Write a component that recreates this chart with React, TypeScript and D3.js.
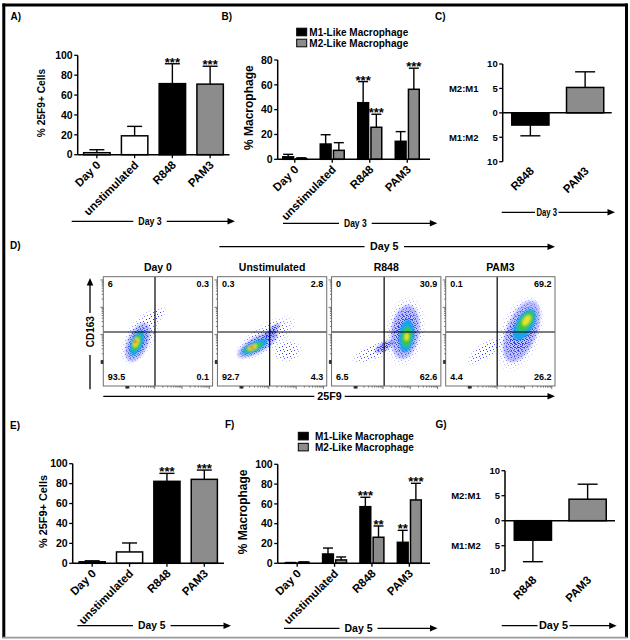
import React from "react";
import * as d3 from "d3";

const FONT = "'Liberation Sans', Arial, Helvetica, sans-serif";

// ---------- categories ----------
const treatments = ["Day 0", "unstimulated", "R848", "PAM3"];
const agonists = ["R848", "PAM3"];
const subsets = ["M1-Like Macrophage", "M2-Like Macrophage"];

// ---------- A) Day 3, % 25F9+ cells ----------
const day3Pos = [2, 19, 71.5, 71];
const day3PosErr = [3, 9.5, 20, 18];
const day3PosSig = ["", "", "***", "***"];

// ---------- B) Day 3, % macrophage subsets ----------
const day3M1 = [2, 12.3, 45.6, 14.5];
const day3M1Err = [2, 7.5, 17, 7.8];
const day3M1Sig = ["", "", "***", ""];
const day3M2 = [0.5, 7.2, 25.8, 56.4];
const day3M2Err = [0.7, 6.2, 10.5, 17];
const day3M2Sig = ["", "", "***", "***"];

// ---------- C) Day 3 ratio (positive = M2:M1, negative = M1:M2) ----------
const day3Ratio = [-2.5, 5.2];
const day3RatioErr = [2.2, 3.2];

// ---------- E) Day 5, % 25F9+ cells ----------
const day5Pos = [1.5, 11.4, 82.3, 84.3];
const day5PosErr = [1, 9, 8, 9.3];
const day5PosSig = ["", "", "***", "***"];

// ---------- F) Day 5, % macrophage subsets ----------
const day5M1 = [0.5, 9.4, 57.2, 21.2];
const day5M1Err = [0.3, 6, 9.5, 12.1];
const day5M1Sig = ["", "", "***", "**"];
const day5M2 = [1, 3.4, 26.3, 64];
const day5M2Err = [0.4, 3, 11.4, 16.8];
const day5M2Sig = ["", "", "**", "***"];

// ---------- G) Day 5 ratio ----------
const day5Ratio = [-3.9, 4.3];
const day5RatioErr = [4.3, 3];

// ---------- tick values ----------
const pctTicks100 = [0, 20, 40, 60, 80, 100];
const pctTicks80 = [0, 20, 40, 60, 80];
const ratioTicks = [-10, -5, 0, 5, 10];

// ---------- D) flow cytometry, 25F9 (x) vs CD163 (y), both in % of axis ----------
const flowTitles = ["Day 0", "Unstimulated", "R848", "PAM3"];
const quadUL = ["6", "0.3", "0", "0.1"];
const quadUR = ["0.3", "2.8", "30.9", "69.2"];
const quadLL = ["93.5", "92.7", "6.5", "4.4"];
const quadLR = ["0.1", "4.3", "62.6", "26.2"];
const gate25F9 = [47.3, 47.8, 48.1, 47.1];
const gateCD163 = [49.4, 49.4, 49.4, 49.4];

// density contours: [level, cx, cy, rx, ry, tilt°] (level 0 = sparse events .. 5 = peak)
type Blob = [number, number, number, number, number, number];
const day0Density: Blob[] = [
  [0, 34, 45, 30, 14, 60],
  [0, 47, 63, 14, 6, 40],
  [1, 31.5, 40, 19, 9.5, 66],
  [2, 30.8, 39.5, 12, 5.5, 68],
  [3, 30.4, 39.5, 8, 3.8, 70],
  [4, 30, 40, 4.5, 2.3, 70],
  [5, 29.6, 40.5, 2, 1.2, 70],
];
const unstimDensity: Blob[] = [
  [0, 44, 44, 34, 13, 33],
  [0, 64, 32, 14, 11, 10],
  [1, 37, 38, 21, 7.5, 30],
  [1, 50, 50, 10, 3.5, 45],
  [2, 34, 36, 13, 4.5, 27],
  [3, 33, 35.3, 9, 3.2, 25],
  [4, 32, 35.3, 4.5, 2, 25],
  [5, 31.6, 35.4, 2, 1.1, 25],
];
const r848Density: Blob[] = [
  [0, 67.5, 50, 34, 19, 82],
  [0, 38, 31, 22, 8, 23],
  [1, 67.4, 49.5, 25, 13, 82],
  [1, 48, 36, 10, 4, 30],
  [2, 68.5, 46, 15, 7, 84],
  [3, 68.7, 45, 9.5, 4.8, 85],
  [4, 68.7, 45, 3.5, 2, 85],
];
const pam3Density: Blob[] = [
  [0, 68, 48, 38, 20, 70],
  [0, 36, 32, 22, 8, 35],
  [1, 69.5, 50, 30, 14, 68],
  [2, 72, 56, 16, 8, 60],
  [3, 73.2, 58.8, 11, 5.5, 55],
  [4, 74, 60, 5.5, 3, 55],
];
const flowDensities = [day0Density, unstimDensity, r848Density, pam3Density];

// ---------- styles ----------
const GREY = "#8c8c8c";
const treatmentFill = d3.scaleOrdinal<string, string>().domain(treatments).range(["#ffffff", "#ffffff", "#000000", GREY]);
const agonistFill = d3.scaleOrdinal<string, string>().domain(agonists).range(["#000000", GREY]);
const subsetFill = d3.scaleOrdinal<string, string>().domain(subsets).range(["#000000", GREY]);
const densityColor = ["", "", "#17a4ee", "#36c64a", "#e9e42c", "#f0502a"];

type BarSpec = { key: string; x: number; w: number; v: number; e: number; fill: string; star?: string };

function YAxis({ x, scale, ticks, fmt, size }: any) {
  const r = scale.range();
  return (
    <g>
      <line x1={x} x2={x} y1={r[0]} y2={r[1]} stroke="#000" strokeWidth={1.5} />
      {ticks.map((t: number) => (
        <g key={t}>
          <line x1={x - 3.5} x2={x} y1={scale(t)} y2={scale(t)} stroke="#000" strokeWidth={1.3} />
          <text x={x - 5} y={scale(t)} dy="0.36em" textAnchor="end" fontWeight="bold" fontSize={size}>
            {fmt(t)}
          </text>
        </g>
      ))}
    </g>
  );
}

function Bars({ y, bars, capHalf, starSize }: { y: any; bars: BarSpec[]; capHalf: number; starSize: number }) {
  const y0 = y(0);
  return (
    <g>
      {bars.map((b) => {
        const dir = b.v < 0 ? -1 : 1;
        const yv = y(b.v);
        const ye = y(b.v + dir * b.e);
        const cx = b.x + b.w / 2;
        return (
          <g key={b.key}>
            <line x1={cx} x2={cx} y1={yv} y2={ye} stroke="#000" strokeWidth={1.4} />
            <line x1={cx - capHalf} x2={cx + capHalf} y1={ye} y2={ye} stroke="#000" strokeWidth={1.4} />
            <rect x={b.x} y={Math.min(yv, y0)} width={b.w} height={Math.abs(y0 - yv)} fill={b.fill} stroke="#000" strokeWidth={1.5} />
            {b.star ? (
              <text x={cx} y={ye + 3} textAnchor="middle" fontWeight="bold" fontSize={starSize}>
                {b.star}
              </text>
            ) : null}
          </g>
        );
      })}
    </g>
  );
}

function XLabels({ items, y, size }: { items: { x: number; t: string }[]; y: number; size: number }) {
  return (
    <g>
      {items.map((it) => (
        <text key={it.t} transform={`translate(${it.x + 4.5},${y}) rotate(-45)`} textAnchor="end" fontWeight="bold" fontSize={size}>
          {it.t}
        </text>
      ))}
    </g>
  );
}

function XTicks({ xs, y }: { xs: number[]; y: number }) {
  return (
    <g>
      {xs.map((x, i) => (
        <line key={i} x1={x} x2={x} y1={y} y2={y + 3.5} stroke="#000" strokeWidth={1.3} />
      ))}
    </g>
  );
}

function YTitle({ x, y, text, size }: any) {
  return (
    <text transform={`translate(${x},${y}) rotate(-90)`} textAnchor="middle" dy="0.35em" fontSize={size} fontWeight="bold">
      {text}
    </text>
  );
}

function LabeledArrow({ x1, x2, y, label, t1, t2, size, gap = 5 }: any) {
  return (
    <g>
      <line x1={x1} x2={t1 - gap} y1={y} y2={y} stroke="#000" strokeWidth={1.3} />
      <line x1={t2 + gap} x2={x2 - 5} y1={y} y2={y} stroke="#000" strokeWidth={1.3} />
      <path d={`M${x2},${y} L${x2 - 7.5},${y - 3.3} L${x2 - 7.5},${y + 3.3} Z`} fill="#000" />
      <text x={(t1 + t2) / 2} y={y} dy="0.36em" textAnchor="middle" fontWeight="bold" fontSize={size} textLength={t2 - t1} lengthAdjust="spacingAndGlyphs">
        {label}
      </text>
    </g>
  );
}

function Legend({ x, y, tx }: { x: number; y: number; tx: number }) {
  return (
    <g>
      {subsets.map((s, i) => (
        <g key={s}>
          <rect x={x} y={y + i * 11} width={10} height={7.6} fill={subsetFill(s)} stroke="#000" strokeWidth={1} />
          <text x={tx} y={y + i * 11 + 7.4} fontWeight="bold" fontSize={10}>
            {s}
          </text>
        </g>
      ))}
    </g>
  );
}

// single-series percentage panel (A, E)
function PctPanel({ vals, errs, sig, yRange, axisX, axisEnd, band, titleX, titleSize }: any) {
  const y = d3.scaleLinear().domain([0, 100]).range(yRange);
  const x = d3.scaleBand<string>().domain(treatments).range(band).paddingInner(0.3).paddingOuter(0.15);
  const bars: BarSpec[] = treatments.map((t, i) => ({
    key: t,
    x: x(t)!,
    w: x.bandwidth(),
    v: vals[i],
    e: errs[i],
    fill: treatmentFill(t),
    star: sig[i],
  }));
  const centers = treatments.map((t) => x(t)! + x.bandwidth() / 2);
  return (
    <g>
      <Bars y={y} bars={bars} capHalf={7.5} starSize={13} />
      <YAxis x={axisX} scale={y} ticks={pctTicks100} fmt={(d: number) => d} size={10.5} />
      <line x1={axisX} x2={axisEnd} y1={y(0)} y2={y(0)} stroke="#000" strokeWidth={1.5} />
      <XTicks xs={centers} y={y(0)} />
      <XLabels items={treatments.map((t, i) => ({ x: centers[i], t }))} y={y(0) + 11} size={11.5} />
      <YTitle x={titleX} y={(yRange[0] + yRange[1]) / 2 - 2} text="% 25F9+ Cells" size={titleSize} />
    </g>
  );
}

// grouped M1/M2 panel (B, F)
function SubsetPanel({ m1, m1e, m1s, m2, m2e, m2s, ymax, ticks, yRange, axisX, axisEnd, band, titleX }: any) {
  const y = d3.scaleLinear().domain([0, ymax]).range(yRange);
  const x0 = d3.scaleBand<string>().domain(treatments).range(band).paddingInner(0.36).paddingOuter(0.18);
  const half = x0.bandwidth() / 2;
  const x1 = d3.scaleBand<string>().domain(subsets).range([-half, half]).paddingInner(0.18);
  const series = [
    { s: subsets[0], v: m1, e: m1e, st: m1s },
    { s: subsets[1], v: m2, e: m2e, st: m2s },
  ];
  const bars: BarSpec[] = [];
  treatments.forEach((t, i) => {
    const cx = x0(t)! + half;
    series.forEach((sr) =>
      bars.push({
        key: t + sr.s,
        x: cx + x1(sr.s)!,
        w: x1.bandwidth(),
        v: sr.v[i],
        e: sr.e[i],
        fill: subsetFill(sr.s),
        star: sr.st[i],
      })
    );
  });
  const centers = treatments.map((t) => x0(t)! + half);
  return (
    <g>
      <Bars y={y} bars={bars} capHalf={5} starSize={13} />
      <YAxis x={axisX} scale={y} ticks={ticks} fmt={(d: number) => d} size={10.5} />
      <line x1={axisX} x2={axisEnd} y1={y(0)} y2={y(0)} stroke="#000" strokeWidth={1.5} />
      <XTicks xs={centers} y={y(0)} />
      <XLabels items={treatments.map((t, i) => ({ x: centers[i], t }))} y={y(0) + 11} size={11.5} />
      <YTitle x={titleX} y={(yRange[0] + yRange[1]) / 2 - 2} text="% Macrophage" size={12} />
    </g>
  );
}

// ratio panel (C, G)
function RatioPanel({ vals, errs, yRange, axisX, axisEnd, band, ratioX }: any) {
  const y = d3.scaleLinear().domain([-10, 10]).range(yRange);
  const x = d3.scaleBand<string>().domain(agonists).range(band).paddingInner(0.32).paddingOuter(0.16);
  const bars: BarSpec[] = agonists.map((a, i) => ({
    key: a,
    x: x(a)!,
    w: x.bandwidth(),
    v: vals[i],
    e: errs[i],
    fill: agonistFill(a),
  }));
  const centers = agonists.map((a) => x(a)! + x.bandwidth() / 2);
  return (
    <g>
      <Bars y={y} bars={bars} capHalf={10} starSize={13} />
      <YAxis x={axisX} scale={y} ticks={ratioTicks} fmt={(d: number) => Math.abs(d)} size={9.5} />
      <line x1={axisX} x2={axisEnd} y1={y(0)} y2={y(0)} stroke="#000" strokeWidth={1.5} />
      <text x={ratioX} y={y(5)} dy="0.36em" textAnchor="end" fontWeight="bold" fontSize={9.5}>
        M2:M1
      </text>
      <text x={ratioX} y={y(-5)} dy="0.36em" textAnchor="end" fontWeight="bold" fontSize={9.5}>
        M1:M2
      </text>
      <XLabels items={agonists.map((a, i) => ({ x: centers[i], t: a }))} y={yRange[0] + 10} size={11.5} />
    </g>
  );
}

// flow axis ticks: decades with log-spaced minors
const flowDecadeFrac = [0.22, 0.47, 0.72, 0.97];
const flowTickFrac: { f: number; major: boolean }[] = [];
flowDecadeFrac.forEach((d) => {
  flowTickFrac.push({ f: d, major: true });
  for (let k = 2; k <= 9; k++) {
    const f = d + 0.25 * Math.log10(k);
    if (f < 1) flowTickFrac.push({ f, major: false });
  }
});

function FlowPlot({ idx, x, y, w, h }: { idx: number; x: number; y: number; w: number; h: number }) {
  const sx = d3.scaleLinear().domain([0, 100]).range([x, x + w]);
  const sy = d3.scaleLinear().domain([0, 100]).range([y + h, y]);
  const k = w / 100;
  const blobs = flowDensities[idx];
  const clipId = `flowclip${idx}`;
  const ell = (b: Blob, i: number, fill: string, extra: any = {}) => (
    <ellipse
      key={i}
      cx={sx(b[1])}
      cy={sy(b[2])}
      rx={b[3] * k}
      ry={b[4] * k}
      transform={`rotate(${-b[5]} ${sx(b[1])} ${sy(b[2])})`}
      fill={fill}
      {...extra}
    />
  );
  return (
    <g>
      <clipPath id={clipId}>
        <rect x={x} y={y} width={w} height={h} />
      </clipPath>
      <mask id={`sparse${idx}`} maskUnits="userSpaceOnUse" x={x} y={y} width={w} height={h}>
        {blobs.map((b, i) => (b[0] === 0 ? ell(b, i, "url(#fade)") : null))}
      </mask>
      <mask id={`dense${idx}`} maskUnits="userSpaceOnUse" x={x} y={y} width={w} height={h}>
        {blobs.map((b, i) => (b[0] === 1 ? ell(b, i, "url(#fade)") : null))}
      </mask>
      <rect x={x} y={y} width={w} height={h} fill="#fff" />
      <g clipPath={`url(#${clipId})`}>
        <rect x={x} y={y} width={w} height={h} fill="url(#sparseDots)" mask={`url(#sparse${idx})`} />
        <g filter="url(#soft)">{blobs.map((b, i) => (b[0] === 1 ? ell(b, i, "#2a3cff", { opacity: 0.3 }) : null))}</g>
        <rect x={x} y={y} width={w} height={h} fill="url(#denseDots)" mask={`url(#dense${idx})`} />
        <g filter="url(#soft)">{blobs.map((b, i) => (b[0] >= 2 ? ell(b, i, densityColor[b[0]]) : null))}</g>
      </g>
      {/* quadrant gates */}
      <line x1={sx(gate25F9[idx])} x2={sx(gate25F9[idx])} y1={y} y2={y + h} stroke="#000" strokeWidth={1.2} />
      <line x1={x} x2={x + w} y1={sy(gateCD163[idx])} y2={sy(gateCD163[idx])} stroke="#000" strokeWidth={1.2} />
      <rect x={x} y={y} width={w} height={h} fill="none" stroke="#6e6e6e" strokeWidth={1} />
      {/* axis ticks */}
      {flowTickFrac.map((t, i) => (
        <g key={i} stroke="#555" strokeWidth={0.8}>
          <line x1={x - (t.major ? 3 : 1.6)} x2={x} y1={y + h - t.f * h} y2={y + h - t.f * h} />
          <line x1={x + t.f * w} x2={x + t.f * w} y1={y + h} y2={y + h + (t.major ? 3 : 1.6)} />
        </g>
      ))}
      <rect x={x - 2.5} y={y + h - 0.22 * h - 2} width={2.5} height={4} fill="#333" />
      <rect x={x + 0.22 * w - 2} y={y + h} width={4} height={2.5} fill="#333" />
      {/* labels */}
      <text x={x + w / 2} y={y - 5.7} textAnchor="middle" fontWeight="bold" fontSize={10.5}>
        {flowTitles[idx]}
      </text>
      <g fontWeight="bold" fontSize={9}>
        <text x={x + 4.5} y={y + 10.6}>{quadUL[idx]}</text>
        <text x={x + w - 3.5} y={y + 10.6} textAnchor="end">{quadUR[idx]}</text>
        <text x={x + 4.5} y={y + h - 5.7}>{quadLL[idx]}</text>
        <text x={x + w - 3.5} y={y + h - 5.7} textAnchor="end">{quadLR[idx]}</text>
      </g>
    </g>
  );
}

function FlowPanel() {
  const band = d3.scaleBand<string>().domain(flowTitles).range([103.3, 555]).paddingInner(0.0423).paddingOuter(0);
  const top = 276.7;
  const h = 109.3;
  return (
    <g>
      {flowTitles.map((t, i) => (
        <FlowPlot key={t} idx={i} x={band(t)!} y={top} w={band.bandwidth()} h={h} />
      ))}
      <LabeledArrow x1={219.3} x2={555} y={246.7} label="Day 5" t1={370} t2={398.5} size={10.5} gap={5.5} />
      <LabeledArrow x1={103.3} x2={555} y={396.3} label="25F9" t1={317.3} t2={341.7} size={10.5} gap={3} />
      {/* CD163 vertical arrow */}
      <line x1={90} x2={90} y1={389.3} y2={355} stroke="#000" strokeWidth={1.3} />
      <line x1={90} x2={90} y1={313} y2={283} stroke="#000" strokeWidth={1.3} />
      <path d={`M90,278 L86.7,285.5 L93.3,285.5 Z`} fill="#000" />
      <text transform="translate(90,331.7) rotate(-90)" textAnchor="middle" dy="0.36em" fontWeight="bold" fontSize={10}>
        CD163
      </text>
    </g>
  );
}

export default function App() {
  return (
    <svg
      width={630}
      height={640}
      viewBox="0 0 630 640"
      style={{ position: "absolute", left: 0, top: 0, background: "#fff" }}
      fontFamily={FONT}
    >
      <defs>
        <pattern id="sparseDots" width={7} height={7} patternUnits="userSpaceOnUse">
          <rect x={0} y={0} width={1} height={1} fill="#1a22ee" />
          <rect x={4} y={1} width={1} height={1} fill="#2a40ff" />
          <rect x={2} y={3} width={1} height={1} fill="#1a22ee" />
          <rect x={6} y={4} width={1} height={1} fill="#1a22ee" />
          <rect x={3} y={6} width={1} height={1} fill="#2a40ff" />
        </pattern>
        <pattern id="denseDots" width={4} height={4} patternUnits="userSpaceOnUse">
          <rect x={0} y={0} width={1} height={1} fill="#1420e6" />
          <rect x={2} y={1} width={1} height={1} fill="#2030ff" />
          <rect x={1} y={2} width={1} height={1} fill="#1420e6" />
          <rect x={3} y={3} width={1} height={1} fill="#2030ff" />
          <rect x={2} y={3} width={1} height={1} fill="#1420e6" />
        </pattern>
        <radialGradient id="fade">
          <stop offset="0%" stopColor="#fff" stopOpacity={1} />
          <stop offset="55%" stopColor="#fff" stopOpacity={0.85} />
          <stop offset="100%" stopColor="#fff" stopOpacity={0} />
        </radialGradient>
        <filter id="soft" x="-50%" y="-50%" width="200%" height="200%">
          <feGaussianBlur stdDeviation={1.1} />
        </filter>
      </defs>
      <rect width={630} height={640} fill="#fff" />

      {/* frame */}
      <line x1={2.5} x2={627.5} y1={5} y2={5} stroke="#000" strokeWidth={3} />
      <line x1={3.8} x2={3.8} y1={3.5} y2={638} stroke="#000" strokeWidth={3} />
      <line x1={626.5} x2={626.5} y1={3.5} y2={638} stroke="#000" strokeWidth={3} />
      <line x1={2.5} x2={627.5} y1={637.6} y2={637.6} stroke="#999" strokeWidth={1.8} />

      {/* panel letters */}
      <g fontWeight="bold" fontSize={10}>
        <text x={10.5} y={20}>A)</text>
        <text x={221.5} y={20}>B)</text>
        <text x={435} y={20}>C)</text>
        <text x={10} y={248.5}>D)</text>
        <text x={10} y={428.5}>E)</text>
        <text x={225} y={427.5}>F)</text>
        <text x={435.5} y={427.5}>G)</text>
      </g>

      {/* A */}
      <PctPanel
        vals={day3Pos}
        errs={day3PosErr}
        sig={day3PosSig}
        yRange={[154.7, 55.3]}
        axisX={77.7}
        axisEnd={229.5}
        band={[78, 229]}
        titleX={41.7}
        titleSize={10.2}
      />
      <LabeledArrow x1={71.7} x2={235} y={221.3} label="Day 3" t1={138.3} t2={161.7} size={10.5} />

      {/* B */}
      <Legend x={296.7} y={28.2} tx={309.3} />
      <SubsetPanel
        m1={day3M1}
        m1e={day3M1Err}
        m1s={day3M1Sig}
        m2={day3M2}
        m2e={day3M2Err}
        m2s={day3M2Sig}
        ymax={80}
        ticks={pctTicks80}
        yRange={[159.3, 60]}
        axisX={277.7}
        axisEnd={430}
        band={[276, 426]}
        titleX={248.3}
      />
      <LabeledArrow x1={283} x2={437.3} y={223.3} label="Day 3" t1={344} t2={366.7} size={10.5} />

      {/* C */}
      <RatioPanel vals={day3Ratio} errs={day3RatioErr} yRange={[161.7, 64]} axisX={502.7} axisEnd={611.7} band={[503, 612.5]} ratioX={478.5} />
      <LabeledArrow x1={501.7} x2={615} y={212.3} label="Day 3" t1={536.5} t2={557} size={10} gap={1.5} />

      {/* D */}
      <FlowPanel />

      {/* E */}
      <PctPanel
        vals={day5Pos}
        errs={day5PosErr}
        sig={day5PosSig}
        yRange={[563.3, 463.7]}
        axisX={72.7}
        axisEnd={224}
        band={[73.5, 223]}
        titleX={43.3}
        titleSize={10.9}
      />
      <LabeledArrow x1={77.3} x2={231} y={625.7} label="Day 5" t1={138} t2={165.5} size={10.5} />

      {/* F */}
      <Legend x={298.3} y={432.3} tx={315} />
      <SubsetPanel
        m1={day5M1}
        m1e={day5M1Err}
        m1s={day5M1Sig}
        m2={day5M2}
        m2e={day5M2Err}
        m2s={day5M2Sig}
        ymax={100}
        ticks={pctTicks100}
        yRange={[563.3, 464.3]}
        axisX={277.7}
        axisEnd={430}
        band={[278.5, 428]}
        titleX={242.7}
      />
      <LabeledArrow x1={284} x2={437.5} y={628.3} label="Day 5" t1={344.5} t2={372.5} size={10.5} />

      {/* G */}
      <RatioPanel vals={day5Ratio} errs={day5RatioErr} yRange={[570.7, 470.7]} axisX={505} axisEnd={615} band={[505.5, 615]} ratioX={480.7} />
      <LabeledArrow x1={501.7} x2={616.7} y={625.7} label="Day 5" t1={539} t2={568} size={10.5} gap={1.5} />
    </svg>
  );
}
